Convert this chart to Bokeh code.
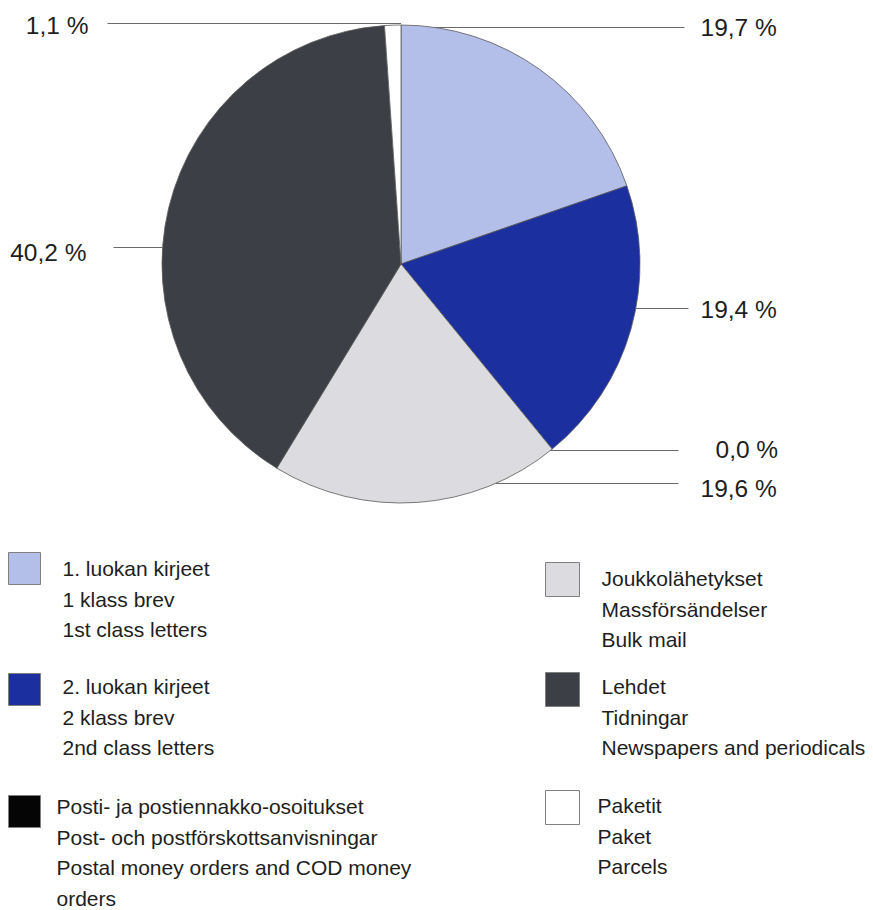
import math
from bokeh.plotting import figure
from bokeh.models import Range1d
from bokeh.core.properties import value
from bokeh.embed import file_html
from bokeh.resources import INLINE

# ---------------- data ----------------
names_fi = ["1. luokan kirjeet", "2. luokan kirjeet", "Posti- ja postiennakko-osoitukset",
            "Joukkolähetykset", "Lehdet", "Paketit"]
names_sv = ["1 klass brev", "2 klass brev", "Post- och postförskottsanvisningar",
            "Massförsändelser", "Tidningar", "Paket"]
names_en = [["1st class letters"], ["2nd class letters"],
            ["Postal money orders and COD money", "orders"],
            ["Bulk mail"], ["Newspapers and periodicals"], ["Parcels"]]
shares = [19.7, 19.4, 0.0, 19.6, 40.2, 1.1]
colors = ["#b3bfe8", "#1c2f9e", "#050505", "#dcdce0", "#3c4046", "#ffffff"]

# ---------------- layout ----------------
W, H = 873, 910
OFF = 0


def Y(py):  # screenshot pixel y -> data y
    return H - (py - OFF)


def X(px):
    return px - OFF


CX, CY, R = X(400.5), Y(263.5), 239

# label layout per slice: (side, label x, label y, line y, line outer x)
label_layout = [
    ("right", 700, 27, 27, 684),
    ("right", 700, 309, 308, 688),
    ("right", 715, 449, 450, 678),
    ("right", 700, 488, 483, 678),
    ("left", 86, 252, 247, 113),
    ("left", 88, 25, 23, 107),
]

# legend layout: (swatch x0, swatch y0, swatch size, text x, first line y)
legend_layout = [
    (8, 552, 32, 62, 568),
    (8, 673, 32, 62, 686),
    (8, 795, 32, 56, 806),
    (545, 562, 34, 601, 578),
    (545, 672, 34, 601, 686),
    (545, 790, 34, 597, 805),
]
LINE_STEP = 30.5

FONT = "Liberation Sans"
TXT = "#1e1e1e"

p = figure(width=W, height=H, output_backend="svg", toolbar_location=None,
           x_range=Range1d(0, W), y_range=Range1d(0, H), min_border=0)
p.axis.visible = False
p.grid.visible = False
p.outline_line_color = None
p.background_fill_color = "white"
p.border_fill_color = "white"

# ---------------- pie ----------------
total = sum(shares)
cum = 0.0
starts, ends, cols = [], [], []
for s, c in zip(shares, colors):
    a0 = math.pi / 2 - 2 * math.pi * cum / total
    cum += s
    a1 = math.pi / 2 - 2 * math.pi * cum / total
    if s > 0:
        starts.append(a0)
        ends.append(a1)
        cols.append(c)
p.wedge(x=CX, y=CY, radius=R, radius_units="screen", start_angle=starts, end_angle=ends,
        direction="clock", fill_color=cols, line_color="#5a5a5a", line_width=0.8)

# ---------------- labels + leader lines ----------------
for s, (side, lx, ly, liney, outer) in zip(shares, label_layout):
    txt = f"{s:.1f}".replace(".", ",") + " %"
    dy = Y(liney) - CY
    dx = math.sqrt(max(R * R - dy * dy, 0.0))
    inner = CX + dx if side == "right" else CX - dx
    p.line(x=[inner, X(outer)], y=[Y(liney), Y(liney)], line_color="#6a6a6a", line_width=1.1)
    p.text(x=[X(lx)], y=[Y(ly)], text=[txt], text_font=value(FONT), text_font_size="24.5px",
           text_color=TXT, text_baseline="middle",
           text_align="left" if side == "right" else "right")

# ---------------- legend ----------------
for i, (sx, sy, ss, tx, ty) in enumerate(legend_layout):
    p.quad(left=X(sx), right=X(sx + ss), top=Y(sy), bottom=Y(sy + ss),
           fill_color=colors[i], line_color="#808080", line_width=1)
    lines = [names_fi[i], names_sv[i]] + names_en[i]
    ys = [Y(ty + k * LINE_STEP) for k in range(len(lines))]
    p.text(x=[X(tx)] * len(lines), y=ys, text=lines, text_font=value(FONT),
           text_font_size="21px", text_color=TXT, text_baseline="middle", text_align="left")

open("out.html", "w").write(file_html(p, INLINE))
